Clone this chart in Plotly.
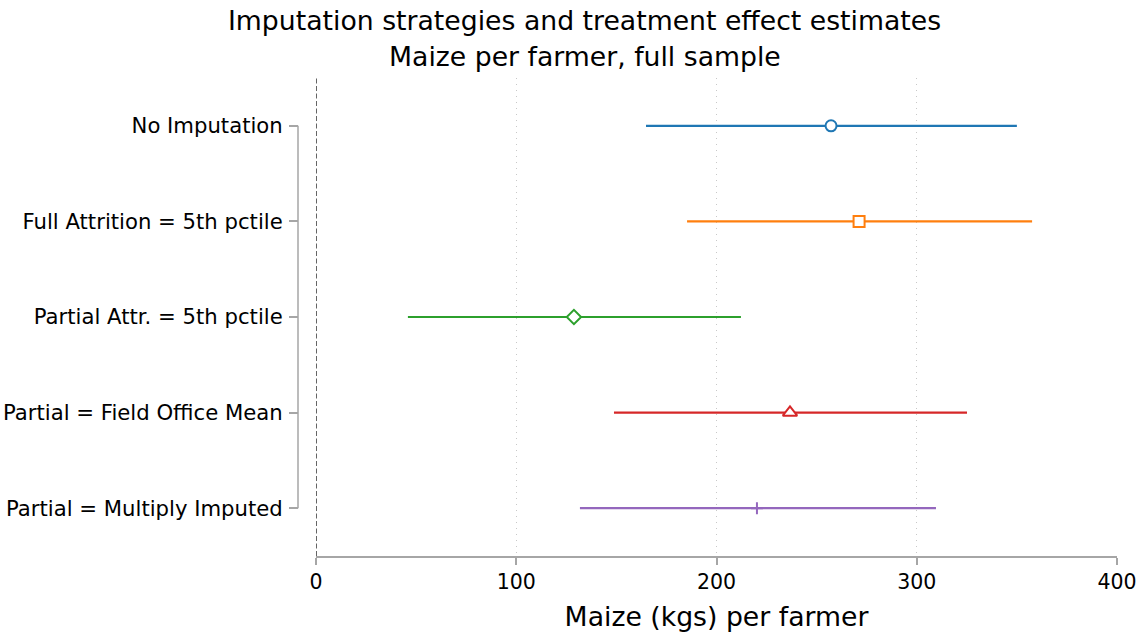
import plotly.graph_objects as go

categories = [
    "No Imputation",
    "Full Attrition = 5th pctile",
    "Partial Attr. = 5th pctile",
    "Partial = Field Office Mean",
    "Partial = Multiply Imputed",
]
estimates = [257.2, 271.2, 128.8, 236.7, 220.2]
ci_lower = [164.8, 185.3, 45.9, 148.8, 131.8]
ci_upper = [350.0, 357.6, 212.2, 325.1, 309.6]
colors = ["#1f77b4", "#ff7f0e", "#2ca02c", "#d62728", "#9467bd"]
symbols = ["circle", "square", "diamond", "triangle-up", "cross-thin-open"]
sizes = [11, 11, 11, 12.5, 8.5]
x_ticks = [0, 100, 200, 300, 400]

title_line1 = "Imputation strategies and treatment effect estimates"
title_line2 = "Maize per farmer, full sample"
x_title = "Maize (kgs) per farmer"

FONT = "DejaVu Sans"
GRAY = "#a6a6a6"

fig = go.Figure()
for i, cat in enumerate(categories):
    is_open_line = symbols[i].endswith("-open")
    fig.add_trace(go.Scatter(
        x=[estimates[i]], y=[cat], mode="markers",
        marker=dict(symbol=symbols[i], size=sizes[i],
                    color=colors[i] if is_open_line else "white",
                    line=dict(color=colors[i], width=2)),
        error_x=dict(type="data", symmetric=False,
                     array=[ci_upper[i] - estimates[i]],
                     arrayminus=[estimates[i] - ci_lower[i]],
                     color=colors[i], thickness=2.2, width=0),
        cliponaxis=False, showlegend=False,
    ))

# zero reference line
fig.add_shape(type="line", xref="x", yref="paper", x0=0, x1=0, y0=0, y1=1,
              line=dict(color="#555555", width=1.8, dash="5px,2.5px"), layer="above")
# y spine spanning first to last category
fig.add_shape(type="line", xref="paper", yref="y", x0=0, x1=0,
              y0=categories[0], y1=categories[-1],
              line=dict(color=GRAY, width=1.5))

fig.add_annotation(text=title_line1, xref="paper", yref="paper", x=0.3504, y=1.121,
                   xanchor="center", yanchor="middle", showarrow=False,
                   font=dict(family=FONT, size=26.7, color="black"))
fig.add_annotation(text=title_line2, xref="paper", yref="paper", x=0.3504, y=1.046,
                   xanchor="center", yanchor="middle", showarrow=False,
                   font=dict(family=FONT, size=26.7, color="black"))

fig.update_layout(
    width=1145, height=632,
    margin=dict(l=298, r=28, t=78, b=76),
    paper_bgcolor="white", plot_bgcolor="white",
    font=dict(family=FONT, color="black"),
    xaxis=dict(domain=[18 / 819, 1], range=[0, 400], tickvals=x_ticks,
               showline=True, linecolor=GRAY, linewidth=1.5,
               ticks="outside", ticklen=7, tickcolor=GRAY, tickwidth=1.5,
               tickfont=dict(size=20.5, family=FONT),
               showgrid=True, gridcolor="#c8c8c8", griddash="1px,5px", gridwidth=1,
               zeroline=False, automargin=False,
               title=dict(text=x_title, font=dict(size=26.7, family=FONT))),
    yaxis=dict(type="category", categoryorder="array", categoryarray=categories,
               range=[4.5, -0.5], anchor="free", position=0,
               showline=False, showgrid=False, zeroline=False,
               ticks="outside", ticklen=9, tickcolor=GRAY, tickwidth=1.5,
               ticklabelstandoff=2,
               tickfont=dict(size=21.2, family=FONT), automargin=False),
)

fig.write_html("out.html")
